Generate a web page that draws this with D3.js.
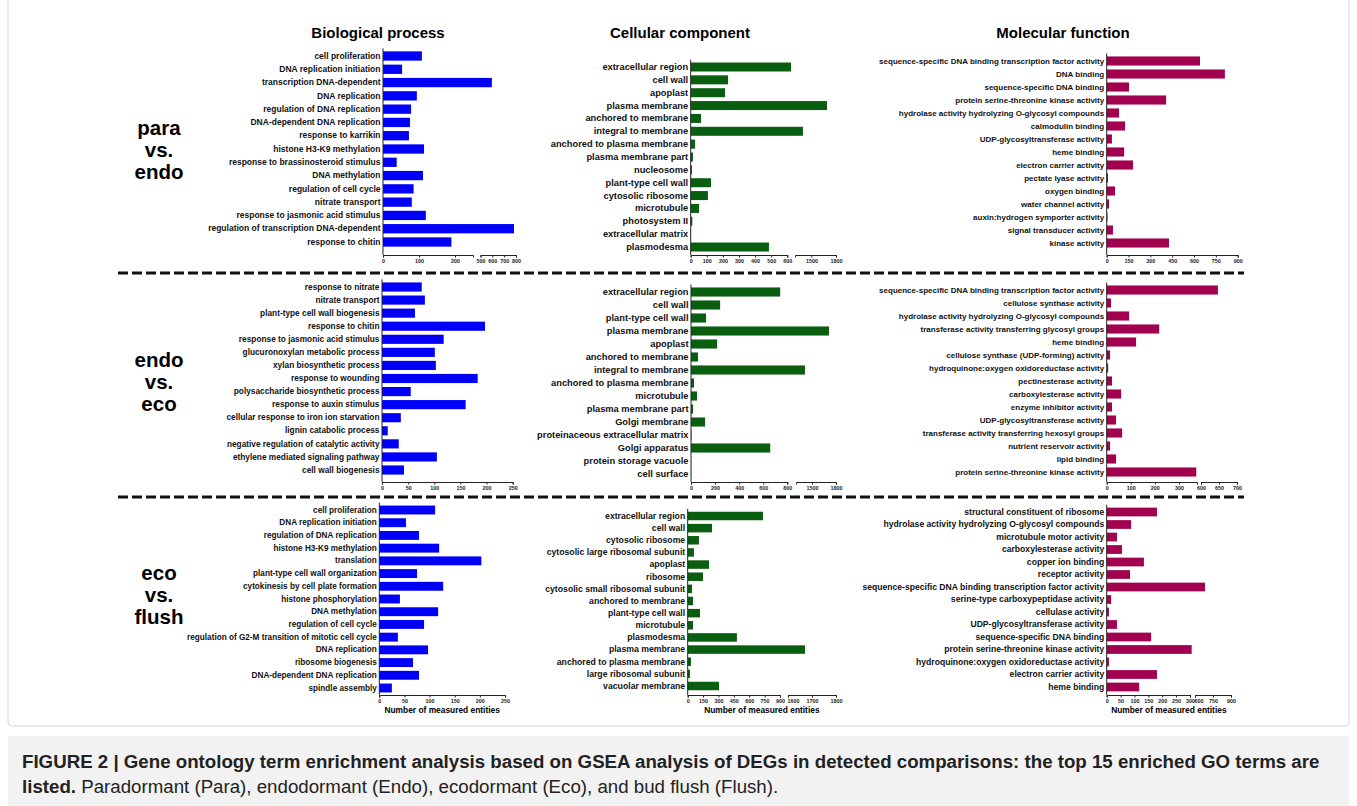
<!DOCTYPE html>
<html>
<head>
<meta charset="utf-8">
<script src="https://cdn.jsdelivr.net/npm/d3@7"></script>
<style>
body { margin: 0; background: #fff; }
svg { display: block; font-family: "Liberation Sans", Arial, sans-serif; }
</style>
</head>
<body>
<script>
// ---- data ----
var columns = ["Biological process", "Cellular component", "Molecular function"];
var comparisons = [["para", "vs.", "endo"], ["endo", "vs.", "eco"], ["eco", "vs.", "flush"]];

var bpParaTerms = ["cell proliferation", "DNA replication initiation", "transcription DNA-dependent", "DNA replication",
  "regulation of DNA replication", "DNA-dependent DNA replication", "response to karrikin", "histone H3-K9 methylation",
  "response to brassinosteroid stimulus", "DNA methylation", "regulation of cell cycle", "nitrate transport",
  "response to jasmonic acid stimulus", "regulation of transcription DNA-dependent", "response to chitin"];
var bpParaValues = [108, 53, 596, 94, 78, 75, 72, 114, 38, 111, 85, 80, 119, 783, 190];

var ccParaTerms = ["extracellular region", "cell wall", "apoplast", "plasma membrane", "anchored to membrane",
  "integral to membrane", "anchored to plasma membrane", "plasma membrane part", "nucleosome", "plant-type cell wall",
  "cytosolic ribosome", "microtubule", "photosystem II", "extracellular matrix", "plasmodesma"];
var ccParaValues = [940, 232, 213, 1690, 64, 1397, 27, 14, 8, 126, 107, 52, 10, 2, 486];

var mfParaTerms = ["sequence-specific DNA binding transcription factor activity", "DNA binding", "sequence-specific DNA binding",
  "protein serine-threonine kinase activity", "hydrolase activity hydrolyzing O-glycosyl compounds", "calmodulin binding",
  "UDP-glycosyltransferase activity", "heme binding", "electron carrier activity", "pectate lyase activity",
  "oxygen binding", "water channel activity", "auxin:hydrogen symporter activity", "signal transducer activity", "kinase activity"];
var mfParaValues = [641, 812, 153, 408, 85, 126, 36, 120, 181, 9, 57, 16, 5, 43, 428];

var bpEndoTerms = ["response to nitrate", "nitrate transport", "plant-type cell wall biogenesis", "response to chitin",
  "response to jasmonic acid stimulus", "glucuronoxylan metabolic process", "xylan biosynthetic process", "response to wounding",
  "polysaccharide biosynthetic process", "response to auxin stimulus", "cellular response to iron ion starvation",
  "lignin catabolic process", "negative regulation of catalytic activity", "ethylene mediated signaling pathway", "cell wall biogenesis"];
var bpEndoValues = [76, 82, 63, 197, 118, 101, 103, 183, 55, 160, 36, 11, 32, 105, 42];

var ccEndoTerms = ["extracellular region", "cell wall", "plant-type cell wall", "plasma membrane", "apoplast",
  "anchored to membrane", "integral to membrane", "anchored to plasma membrane", "microtubule", "plasma membrane part",
  "Golgi membrane", "proteinaceous extracellular matrix", "Golgi apparatus", "protein storage vacuole", "cell surface"];
var ccEndoValues = [741, 242, 125, 1712, 217, 58, 1412, 25, 50, 17, 117, 4, 658, 1, 1];

var mfEndoTerms = ["sequence-specific DNA binding transcription factor activity", "cellulose synthase activity",
  "hydrolase activity hydrolyzing O-glycosyl compounds", "transferase activity transferring glycosyl groups", "heme binding",
  "cellulose synthase (UDP-forming) activity", "hydroquinone:oxygen oxidoreductase activity", "pectinesterase activity",
  "carboxylesterase activity", "enzyme inhibitor activity", "UDP-glycosyltransferase activity",
  "transferase activity transferring hexosyl groups", "nutrient reservoir activity", "lipid binding", "protein serine-threonine kinase activity"];
var mfEndoValues = [647, 18, 93, 218, 122, 14, 6, 22, 60, 22, 39, 64, 14, 39, 372];

var bpEcoTerms = ["cell proliferation", "DNA replication initiation", "regulation of DNA replication", "histone H3-K9 methylation",
  "translation", "plant-type cell wall organization", "cytokinesis by cell plate formation", "histone phosphorylation",
  "DNA methylation", "regulation of cell cycle", "regulation of G2-M transition of mitotic cell cycle", "DNA replication",
  "ribosome biogenesis", "DNA-dependent DNA replication", "spindle assembly"];
var bpEcoValues = [111, 53, 79, 119, 203, 75, 127, 41, 117, 89, 37, 97, 67, 79, 25];

var ccEcoTerms = ["extracellular region", "cell wall", "cytosolic ribosome", "cytosolic large ribosomal subunit", "apoplast",
  "ribosome", "cytosolic small ribosomal subunit", "anchored to membrane", "plant-type cell wall", "microtubule",
  "plasmodesma", "plasma membrane", "anchored to plasma membrane", "large ribosomal subunit", "vacuolar membrane"];
var ccEcoValues = [734, 237, 110, 61, 208, 149, 42, 52, 120, 52, 480, 1671, 32, 22, 305];

var mfEcoTerms = ["structural constituent of ribosome", "hydrolase activity hydrolyzing O-glycosyl compounds",
  "microtubule motor activity", "carboxylesterase activity", "copper ion binding", "receptor activity",
  "sequence-specific DNA binding transcription factor activity", "serine-type carboxypeptidase activity", "cellulase activity",
  "UDP-glycosyltransferase activity", "sequence-specific DNA binding", "protein serine-threonine kinase activity",
  "hydroquinone:oxygen oxidoreductase activity", "electron carrier activity", "heme binding"];
var mfEcoValues = [181, 88, 37, 55, 134, 84, 683, 16, 8, 37, 160, 400, 8, 181, 117];

// broken axes: value segments and their tick labels
var bpParaBreaks = [[0, 250], [500, 800]];  var bpParaTicks = [[0, 100, 200], [500, 600, 700, 800]];
var ccParaBreaks = [[0, 600], [1300, 1800]]; var ccParaTicks = [[0, 100, 200, 300, 400, 500, 600], [1500, 1800]];
var mfParaBreaks = [[0, 900]];              var mfParaTicks = [[0, 150, 300, 450, 600, 750, 900]];
var bpEndoBreaks = [[0, 250]];              var bpEndoTicks = [[0, 50, 100, 150, 200, 250]];
var ccEndoBreaks = [[0, 800], [1300, 1800]]; var ccEndoTicks = [[0, 200, 400, 600, 800], [1500, 1800]];
var mfEndoBreaks = [[0, 375], [600, 700]];   var mfEndoTicks = [[0, 100, 200, 300], [600, 650, 700]];
var bpEcoBreaks = [[0, 250]];               var bpEcoTicks = [[0, 50, 100, 150, 200, 250]];
var ccEcoBreaks = [[0, 900], [1600, 1800]];  var ccEcoTicks = [[0, 150, 300, 450, 600, 750, 900], [1600, 1700, 1800]];
var mfEcoBreaks = [[0, 300], [600, 900]];    var mfEcoTicks = [[0, 50, 100, 150, 200, 250, 300], [600, 750, 900]];

var colors = ["#0000fa", "#0a5e0f", "#a2014f"];

// ---- layout ----
var W = 1357, H = 806;
var svg = d3.select("body").append("svg").attr("width", W).attr("height", H);

svg.append("rect").attr("x", 0).attr("y", 0).attr("width", W).attr("height", H).attr("fill", "#fff");
svg.append("rect").attr("x", 8).attr("y", -4).attr("width", 1341).attr("height", 730)
  .attr("rx", 4).attr("fill", "#fff").attr("stroke", "#d6d6d6");
svg.append("rect").attr("x", 8).attr("y", 736).attr("width", 1341).attr("height", 80)
  .attr("fill", "#f2f2f2");

// panels: pixel geometry per column/row
var panels = [
  {terms: bpParaTerms, values: bpParaValues, breaks: bpParaBreaks, ticks: bpParaTicks, col: 0, fs: 8.5,
    ranges: [[383, 473], [480.5, 516]], yFirst: 56, yLast: 242, yAxis: 255},
  {terms: ccParaTerms, values: ccParaValues, breaks: ccParaBreaks, ticks: ccParaTicks, col: 1, fs: 9.3,
    ranges: [[690.7, 787.3], [795, 836]], yFirst: 67, yLast: 247, yAxis: 255},
  {terms: mfParaTerms, values: mfParaValues, breaks: mfParaBreaks, ticks: mfParaTicks, col: 2, fs: 8.0,
    ranges: [[1106.7, 1237.7]], yFirst: 61, yLast: 243, yAxis: 255},
  {terms: bpEndoTerms, values: bpEndoValues, breaks: bpEndoBreaks, ticks: bpEndoTicks, col: 0, fs: 8.3,
    ranges: [[382, 512.7]], yFirst: 287, yLast: 470, yAxis: 482},
  {terms: ccEndoTerms, values: ccEndoValues, breaks: ccEndoBreaks, ticks: ccEndoTicks, col: 1, fs: 9.3,
    ranges: [[691, 787.3], [796, 836]], yFirst: 292, yLast: 474, yAxis: 482},
  {terms: mfEndoTerms, values: mfEndoValues, breaks: mfEndoBreaks, ticks: mfEndoTicks, col: 2, fs: 8.0,
    ranges: [[1106.7, 1197], [1201, 1237]], yFirst: 290, yLast: 472, yAxis: 482},
  {terms: bpEcoTerms, values: bpEcoValues, breaks: bpEcoBreaks, ticks: bpEcoTicks, col: 0, fs: 8.2,
    ranges: [[379.3, 505]], yFirst: 510, yLast: 688, yAxis: 695, title: true},
  {terms: ccEcoTerms, values: ccEcoValues, breaks: ccEcoBreaks, ticks: ccEcoTicks, col: 1, fs: 8.7,
    ranges: [[687.7, 780], [788, 836]], yFirst: 516, yLast: 686, yAxis: 695, title: true},
  {terms: mfEcoTerms, values: mfEcoValues, breaks: mfEcoBreaks, ticks: mfEcoTicks, col: 2, fs: 8.6,
    ranges: [[1106.7, 1190], [1195, 1231]], yFirst: 512, yLast: 687, yAxis: 695, title: true}
];

panels.forEach(function (p) {
  var g = svg.append("g");
  var step = (p.yLast - p.yFirst) / (p.terms.length - 1);
  var y = d3.scaleBand()
    .domain(p.terms)
    .range([p.yFirst - step / 2, p.yLast + step / 2])
    .paddingInner(0.3).paddingOuter(0.15);

  // piecewise scale through the breaks
  var dom = [], rng = [];
  p.breaks.forEach(function (b, i) {
    dom.push(b[0], b[1]);
    rng.push(p.ranges[i][0], p.ranges[i][1]);
  });
  var x = d3.scaleLinear().domain(dom).range(rng);
  var x0 = p.ranges[0][0];

  g.selectAll("rect.bar")
    .data(p.terms)
    .enter()
    .append("rect")
    .attr("class", "bar")
    .attr("x", x0)
    .attr("y", function (d) { return y(d); })
    .attr("width", function (d, i) { return Math.max(0, x(p.values[i]) - x0); })
    .attr("height", y.bandwidth())
    .attr("fill", colors[p.col]);

  // y axis
  var ya = g.append("g")
    .attr("transform", "translate(" + x0 + ",0)")
    .call(d3.axisLeft(y).tickSize(0).tickPadding(2.5));
  ya.select(".domain").remove();
  ya.selectAll("text")
    .style("font-size", p.fs + "px").style("font-weight", "bold").attr("fill", "#111");
  g.append("line")
    .attr("x1", x0).attr("x2", x0)
    .attr("y1", p.yFirst - step / 2 - 1).attr("y2", p.yAxis)
    .attr("stroke", "#222").attr("stroke-width", 1);

  // x axis segments
  p.breaks.forEach(function (b, i) {
    var xs = d3.scaleLinear().domain(b).range(p.ranges[i]);
    var xa = g.append("g")
      .attr("transform", "translate(0," + p.yAxis + ")")
      .call(d3.axisBottom(xs).tickValues(p.ticks[i]).tickFormat(d3.format("d"))
        .tickSize(2.5).tickSizeOuter(2.5).tickPadding(1.5));
    xa.select(".domain").attr("stroke", "#222");
    xa.selectAll(".tick line").attr("stroke", "#222");
    xa.selectAll("text").style("font-size", "5.4px").style("font-weight", "bold").attr("fill", "#222");
    // where the previous segment also labels its end, push the labels apart
    if (i > 0) {
      var prev = p.breaks[i - 1][1];
      var prevTicks = p.ticks[i - 1];
      if (prevTicks[prevTicks.length - 1] === prev) {
        xa.selectAll(".tick text").filter(function (d) { return d === b[0]; })
          .attr("text-anchor", "start").attr("dx", "-1");
      }
    }
  });

  if (p.title) {
    var mid = (p.ranges[0][0] + p.ranges[p.ranges.length - 1][1]) / 2;
    g.append("text")
      .attr("x", mid).attr("y", p.yAxis + 18)
      .attr("text-anchor", "middle")
      .style("font-size", "8.4px").style("font-weight", "bold")
      .text("Number of measured entities");
  }
});

// column titles
var titleX = [378, 680, 1063];
svg.selectAll("text.coltitle")
  .data(columns)
  .enter()
  .append("text")
  .attr("class", "coltitle")
  .attr("x", function (d, i) { return titleX[i]; })
  .attr("y", 38)
  .attr("text-anchor", "middle")
  .style("font-size", "15px").style("font-weight", "bold")
  .text(function (d) { return d; });

// row labels
var rowY = [135, 367, 580];
comparisons.forEach(function (c, r) {
  svg.append("text")
    .attr("x", 159).attr("y", rowY[r])
    .attr("text-anchor", "middle")
    .style("font-size", "20.5px").style("font-weight", "bold")
    .selectAll("tspan")
    .data(c)
    .enter()
    .append("tspan")
    .attr("x", 159)
    .attr("dy", function (d, i) { return i === 0 ? 0 : 22; })
    .text(function (d) { return d; });
});

// separators
[273, 497].forEach(function (yy) {
  svg.append("line")
    .attr("x1", 118).attr("x2", 1244).attr("y1", yy).attr("y2", yy)
    .attr("stroke", "#111").attr("stroke-width", 3).attr("stroke-dasharray", "10,4");
});

// caption
var cap = svg.append("g").style("font-size", "18.7px").attr("fill", "#222");
cap.append("text").attr("x", 22).attr("y", 768).style("font-weight", "bold")
  .text("FIGURE 2 | Gene ontology term enrichment analysis based on GSEA analysis of DEGs in detected comparisons: the top 15 enriched GO terms are");
var l2 = cap.append("text").attr("x", 22).attr("y", 793);
l2.append("tspan").style("font-weight", "bold").text("listed.");
l2.append("tspan").text(" Paradormant (Para), endodormant (Endo), ecodormant (Eco), and bud flush (Flush).");
</script>
</body>
</html>
